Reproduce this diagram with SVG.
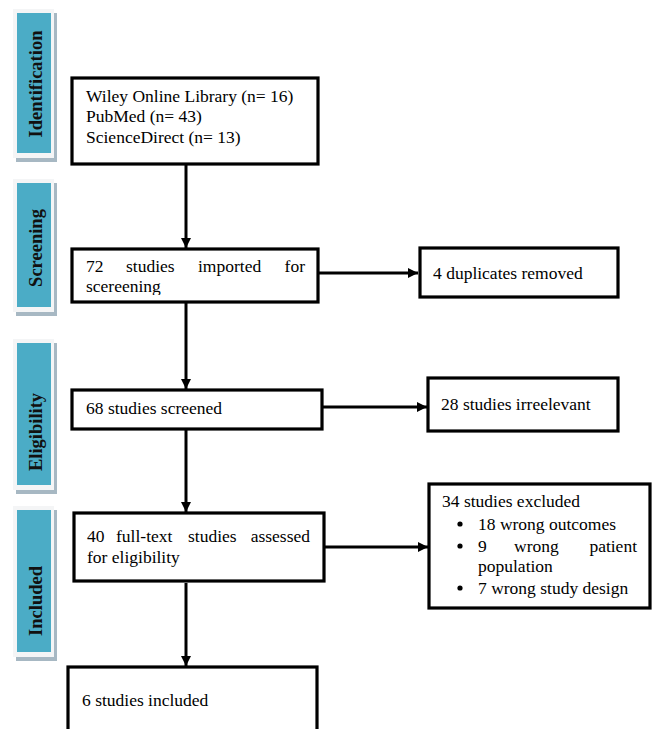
<svg xmlns="http://www.w3.org/2000/svg" width="654" height="729" viewBox="0 0 654 729">
<style>
  .shadow{fill:#a7b8c3}
  .frame{fill:#f4f5f6}
  .teal{fill:#4bacc6}
  .stage{font-family:"Liberation Serif","Times New Roman",serif;font-weight:bold;font-size:18.5px;fill:#111;text-anchor:middle}
  .box{fill:#fff;stroke:#000;stroke-width:3.2}
  .t{font-family:"Liberation Serif","Times New Roman",serif;font-size:17.5px;fill:#000}
  .e{text-anchor:end}
  .conn{stroke:#000;stroke-width:3;fill:none}
</style>
<defs>
  <marker id="ah" viewBox="0 0 10 10" refX="10" refY="5" markerUnits="userSpaceOnUse" markerWidth="11" markerHeight="10" orient="auto">
    <path d="M0,0 L10,5 L0,10 Z" fill="#000"/>
  </marker>
  <clipPath id="clip2"><rect x="70" y="248" width="250" height="47"/></clipPath>
</defs>
<rect width="654" height="729" fill="#fff"/>

<g id="stage-identification">
  <rect class="shadow" x="16" y="13" width="41" height="149"/>
  <rect class="frame" x="13" y="9" width="41" height="149"/>
  <rect class="teal" x="17" y="13" width="34" height="140"/>
  <text class="stage" transform="translate(42,84) rotate(-90)">Identification</text>
</g>
<g id="stage-screening">
  <rect class="shadow" x="16" y="183" width="41" height="133"/>
  <rect class="frame" x="13" y="179" width="41" height="133"/>
  <rect class="teal" x="17" y="183" width="34" height="124"/>
  <text class="stage" transform="translate(42,248) rotate(-90)">Screening</text>
</g>
<g id="stage-eligibility">
  <rect class="shadow" x="16" y="343" width="41" height="151"/>
  <rect class="frame" x="13" y="339" width="41" height="151"/>
  <rect class="teal" x="17" y="343" width="34" height="142"/>
  <text class="stage" transform="translate(42,432) rotate(-90)">Eligibility</text>
</g>
<g id="stage-included">
  <rect class="shadow" x="16" y="510" width="41" height="151"/>
  <rect class="frame" x="13" y="506" width="41" height="151"/>
  <rect class="teal" x="17" y="510" width="34" height="142"/>
  <text class="stage" transform="translate(42,601) rotate(-90)">Included</text>
</g>

<g id="connectors">
  <line class="conn" x1="186" y1="165" x2="186" y2="248" marker-end="url(#ah)"/>
  <line class="conn" x1="186" y1="303" x2="186" y2="389" marker-end="url(#ah)"/>
  <line class="conn" x1="186" y1="430" x2="186" y2="512" marker-end="url(#ah)"/>
  <line class="conn" x1="186" y1="583" x2="186" y2="666" marker-end="url(#ah)"/>
  <line class="conn" x1="319" y1="273" x2="418" y2="273" marker-end="url(#ah)"/>
  <line class="conn" x1="323" y1="407" x2="427" y2="407" marker-end="url(#ah)"/>
  <line class="conn" x1="325" y1="547" x2="428" y2="547" marker-end="url(#ah)"/>
</g>

<g id="node-sources">
  <rect class="box" x="72" y="78" width="246" height="86"/>
  <text class="t" x="86" y="102">Wiley Online Library (n= 16)</text>
  <text class="t" x="86" y="122">PubMed (n= 43)</text>
  <text class="t" x="86" y="143">ScienceDirect (n= 13)</text>
</g>
<g id="node-imported">
  <rect class="box" x="72" y="249" width="246" height="53"/>
  <g clip-path="url(#clip2)">
    <text class="t" y="272"><tspan x="86">72</tspan><tspan x="126">studies</tspan><tspan x="198">imported</tspan></text>
    <text class="t e" x="305" y="272">for</text>
    <text class="t" x="86" y="292">scereening</text>
  </g>
</g>
<g id="node-duplicates">
  <rect class="box" x="420" y="248" width="198" height="49"/>
  <text class="t" x="433" y="279">4 duplicates removed</text>
</g>
<g id="node-screened">
  <rect class="box" x="72" y="390" width="250" height="39"/>
  <text class="t" x="86" y="414">68 studies screened</text>
</g>
<g id="node-irrelevant">
  <rect class="box" x="428" y="378" width="190" height="53"/>
  <text class="t" x="441" y="410">28 studies irreelevant</text>
</g>
<g id="node-fulltext">
  <rect class="box" x="74" y="513" width="250" height="68"/>
  <text class="t" y="542"><tspan x="87">40</tspan><tspan x="116">full-text</tspan><tspan x="188">studies</tspan></text>
  <text class="t e" x="310" y="542">assessed</text>
  <text class="t" x="87" y="563">for eligibility</text>
</g>
<g id="node-excluded">
  <rect class="box" x="429" y="484" width="221" height="124"/>
  <text class="t" x="442" y="507">34 studies excluded</text>
  <circle cx="460" cy="524" r="2.6" fill="#000"/>
  <text class="t" x="478" y="530">18 wrong outcomes</text>
  <circle cx="460" cy="546" r="2.6" fill="#000"/>
  <text class="t" y="552"><tspan x="478">9</tspan><tspan x="514">wrong</tspan></text>
  <text class="t e" x="637" y="552">patient</text>
  <text class="t" x="478" y="572">population</text>
  <circle cx="460" cy="588" r="2.6" fill="#000"/>
  <text class="t" x="478" y="594">7 wrong study design</text>
</g>
<g id="node-included">
  <rect class="box" x="68" y="667" width="249" height="70"/>
  <text class="t" x="82" y="706">6 studies included</text>
</g>
</svg>
